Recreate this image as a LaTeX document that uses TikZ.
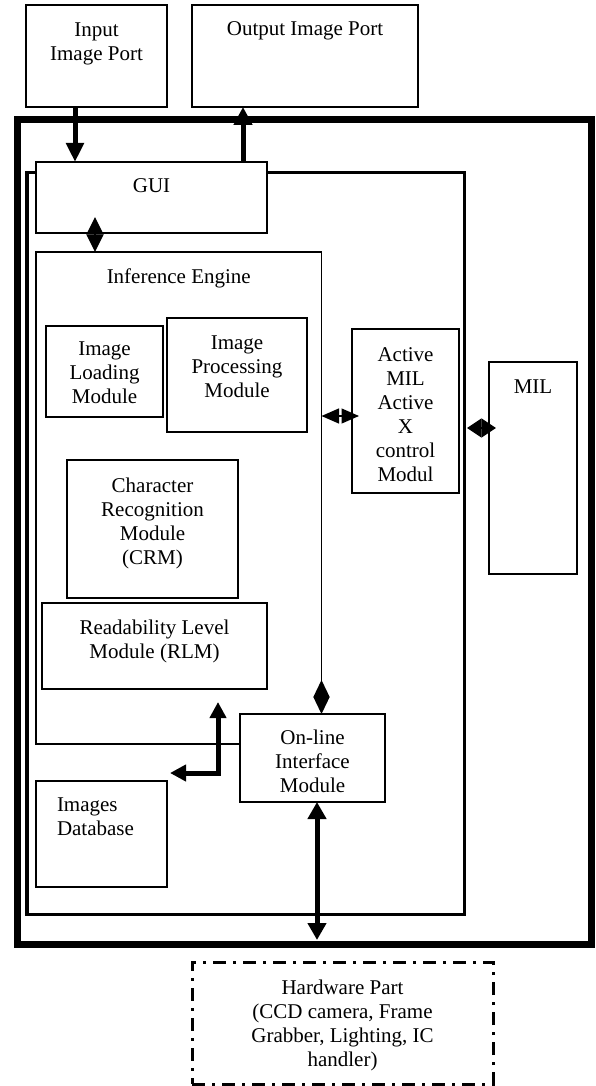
\documentclass[tikz,border=0pt]{standalone}
\usepackage{fontspec}
\setmainfont{Liberation Serif}
\usetikzlibrary{arrows.meta}

\begin{document}
\begin{tikzpicture}
  [x=1pt,y=-1pt,
   every node/.style={inner sep=0pt,outer sep=0pt,font=\fontsize{21}{24}\selectfont}, % all nodes: no padding, Times-like text
   blk/.style={draw,line width=1.3pt,fill=white,anchor=north west},
   hwbox/.style={draw,line width=3pt,dash pattern=on 13pt off 7pt on 3pt off 7pt,anchor=north west},
   txt/.style={align=center,anchor=base}, % base = last line of the text
   bigarr/.style={line width=5pt},
   dia/.style={line width=1.3pt}]

  \useasboundingbox (0,0) rectangle (595,1086);

  % the two frames
  \node[draw,line width=7pt,anchor=north west,minimum width=574pt,minimum height=824pt] (outer) at (17,120) {};
  \node[draw,line width=3.5pt,anchor=north west,minimum width=437.5pt,minimum height=742pt] (frame) at (27,172.5) {};

  \node[blk,minimum width=141pt,minimum height=102pt] (inport) at (26,5) {};
  \node[blk,minimum width=226pt,minimum height=102pt] (outport) at (192,5) {};
  \node[blk,minimum width=231pt,minimum height=71pt] (gui) at (36,162) {};
  \node[blk,minimum width=285.5pt,minimum height=492pt] (engine) at (36,252) {};
  \node[blk,minimum width=117pt,minimum height=91pt] (loading) at (46,326) {};
  \node[blk,minimum width=140pt,minimum height=114pt] (processing) at (167,318) {};
  \node[blk,minimum width=171pt,minimum height=138pt] (crm) at (67,460) {};
  \node[blk,minimum width=225pt,minimum height=86pt] (rlm) at (42,603) {};
  \node[blk,minimum width=107pt,minimum height=164pt] (active) at (352,329) {};
  \node[blk,minimum width=88pt,minimum height=212pt] (mil) at (489,362) {};
  \node[blk,minimum width=145pt,minimum height=88pt] (online) at (240,714) {};
  \node[blk,minimum width=131pt,minimum height=106pt] (database) at (36,781) {};
  \node[hwbox,minimum width=301pt,minimum height=122pt] (hardware) at (192,962) {};

  % texts
  \node[txt] (intxt) at (96.5,61) {Input\\Image Port};
  \node[txt] (outtxt) at (305,36) {Output Image Port};
  \node[txt] (guitxt) at (151.5,193) {GUI};
  \node[txt] (engtxt) at (178.75,283) {Inference Engine};
  \node[txt] (loadtxt) at (104.5,403) {Image\\Loading\\Module};
  \node[txt] (proctxt) at (237,397) {Image\\Processing\\Module};
  \node[txt] (crmtxt) at (152.5,564) {Character\\Recognition\\Module\\(CRM)};
  \node[txt] (rlmtxt) at (154.5,658) {Readability Level\\Module (RLM)};
  \node[txt] (acttxt) at (405.5,481) {Active\\MIL\\Active\\X\\control\\Modul};
  \node[txt] (miltxt) at (533,393) {MIL};
  \node[txt] (onltxt) at (312.5,792) {On-line\\Interface\\Module};
  \node[txt,align=left,anchor=base west] (dbtxt) at (57,835) {Images\\Database};
  \node[txt] (hwtxt) at (342.5,1066) {Hardware Part\\(CCD camera, Frame\\Grabber, Lighting, IC\\handler)};

  % connectors
  \draw[bigarr,-{Triangle[length=19pt,width=17pt]}] ([xshift=-21.5pt]inport.south) -- ([xshift=-76.5pt]gui.north);
  \draw[bigarr,-{Triangle[length=18pt,width=18pt]}] ([xshift=91.5pt]gui.north) -- ([xshift=-62pt]outport.south);
  \draw[dia,{Triangle[length=17.5pt,width=17pt]}-{Triangle[length=17.5pt,width=17pt]}] ([xshift=-56.5pt,yshift=16pt]gui.south) -- ([xshift=-83.75pt]engine.north);
  \draw[dia,{Triangle[length=17.5pt,width=15pt]}-{Triangle[length=17.5pt,width=15pt]}] ([yshift=82pt]engine.east) -- ([xshift=7pt,yshift=-5pt]active.west);
  \draw[dia,{Triangle[length=14.5pt,width=19pt]}-{Triangle[length=14.5pt,width=19pt]}] ([xshift=2.5pt,yshift=115.5pt]frame.east) -- ([xshift=7pt,yshift=40pt]mil.west);
  \draw[dia,{Triangle[length=17pt,width=16pt]}-{Triangle[length=17pt,width=16pt]}] ([xshift=9pt,yshift=34pt]online.north) -- ([xshift=9pt]online.north);
  \draw[bigarr,{Triangle[length=16pt,width=16pt]}-{Triangle[length=16pt,width=16pt]}] ([xshift=63.5pt,yshift=-13pt]rlm.south) |- ([xshift=68.5pt,yshift=8pt]database.north);
  \draw[bigarr,{Triangle[length=17pt,width=18pt]}-{Triangle[length=17pt,width=18pt]}] ([xshift=4.5pt]online.south) -- ++(0,138);

\end{tikzpicture}
\end{document}
